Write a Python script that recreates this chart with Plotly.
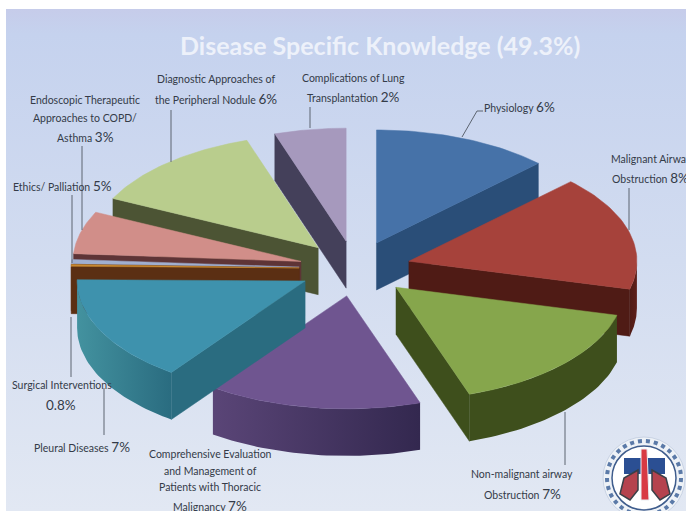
import numpy as np
import plotly.graph_objects as go

# ---- data -----------------------------------------------------------------
categories = ["Physiology", "Malignant Airway Obstruction", "Non-malignant airway Obstruction",
              "Comprehensive Evaluation", "Pleural Diseases", "Surgical Interventions",
              "Ethics/ Palliation", "Endoscopic Therapeutic", "Diagnostic Approaches", "Complications"]
# share of the drawn pie (size of each slice as drawn), in percent of 49.3
slice_values = [6.2, 8.1, 7.8, 7.5, 7.5, 0.15, 0.3, 3.0, 6.3, 2.5]
top_colors = ["#4672A8", "#A6423B", "#86A64C", "#6F5590", "#3E92AD", "#C98A33", "#A0AFD0", "#D18E89", "#B9CD8D", "#A699BD"]
side_left = ["#2A4E78", "#4F1B15", "#3E4F1C", "#5A4577", "#43929F", "#5B2F13", "#5B2F13", "#5E3436", "#4C5434", "#44405A"]
side_right = ["#254569", "#5E1F1A", "#3E4F1C", "#33284F", "#2A6C80", "#5B2F13", "#5B2F13", "#5E3436", "#4C5434", "#44405A"]
draw_order = [9, 0, 8, 1, 2, 7, 6, 5, 3, 4]

title_text = "Disease Specific Knowledge (49.3%)"
label_lines = [
    ("Complications of Lung", None, 353, 78, "center"),
    ("Transplantation", "2%", 353, 97, "center"),
    ("Physiology", "6%", 519, 107, "center"),
    ("Malignant Airway", None, 609, 159, "left"),
    ("Obstruction", "8%", 610, 178, "left"),
    ("Non-malignant airway", None, 522, 474, "center"),
    ("Obstruction", "7%", 522, 494, "center"),
    ("Comprehensive Evaluation", None, 210, 454, "center"),
    ("and Management of", None, 210, 471, "center"),
    ("Patients with Thoracic", None, 210, 487, "center"),
    ("Malignancy", "7%", 210, 506, "center"),
    ("Pleural Diseases", "7%", 82, 447, "center"),
    ("Surgical Interventions", None, 62, 385, "center"),
    ("", "0.8%", 61, 405, "center"),
    ("Ethics/ Palliation", "5%", 62, 186, "center"),
    ("Endoscopic Therapeutic", None, 85, 100, "center"),
    ("Approaches to COPD/", None, 85, 118, "center"),
    ("Asthma", "3%", 85, 137, "center"),
    ("Diagnostic Approaches of", None, 216, 79, "center"),
    ("the Peripheral Nodule", "6%", 216, 99, "center"),
]
leaders = [
    [(462, 137), (477, 111), (483, 111)],
    [(310, 128), (310, 107)],
    [(171, 162), (171, 110)],
    [(82, 230), (82, 146)],
    [(72, 263), (72, 195)],
    [(71, 317), (71, 377)],
    [(104, 388), (104, 435)],
    [(629, 230), (629, 188)],
    [(565, 412), (565, 465)],
]

# ---- pie geometry -----------------------------------------------------------
CX, CY, RX, RY, DEPTH, EXPLODE = 355.0, 268.5, 228.0, 113.0, 47.0, 0.245

values = np.array(slice_values, dtype=float)
edges = np.concatenate([[0], np.cumsum(values)]) / values.sum() * 2 * np.pi

fig = go.Figure()

# background panel
fig.add_trace(go.Scatter(
    x=[6, 686, 686, 6, 6], y=[9, 9, 511, 511, 9], mode="lines", line=dict(width=0),
    fill="toself", hoverinfo="skip", showlegend=False,
    fillgradient=dict(type="vertical", colorscale=[[0, "#E2E8F3"], [0.5, "#D2DCF0"], [0.95, "#C5D2EE"], [1, "#C6CCEA"]]),
))


def poly(xs, ys, **kw):
    fig.add_trace(go.Scatter(x=list(xs) + [xs[0]], y=list(ys) + [ys[0]], mode="lines",
                             fill="toself", hoverinfo="skip", showlegend=False, **kw))


for i in draw_order:
    a0, a1 = edges[i], edges[i + 1]
    mid = (a0 + a1) / 2
    ax = CX + EXPLODE * RX * np.sin(mid)
    ay = CY - EXPLODE * RY * np.cos(mid)
    t = np.linspace(a0, a1, 40)
    ox = ax + RX * np.sin(t)
    oy = ay - RY * np.cos(t)

    # flat cut faces, only those facing the viewer
    if np.sin(a0) < -1e-6:
        c = side_right[i]
        poly([ax, ox[0], ox[0], ax], [ay, oy[0], oy[0] + DEPTH, ay + DEPTH],
             line=dict(width=0.5, color=c), fillcolor=c)
    if np.sin(a1) > 1e-6:
        c = side_left[i]
        poly([ax, ox[-1], ox[-1], ax], [ay, oy[-1], oy[-1] + DEPTH, ay + DEPTH],
             line=dict(width=0.5, color=c), fillcolor=c)
    # curved outer face, front half only
    lo, hi = max(a0, np.pi / 2), min(a1, 3 * np.pi / 2)
    if hi > lo:
        s = np.linspace(lo, hi, 40)
        sx = ax + RX * np.sin(s)
        sy = ay - RY * np.cos(s)
        poly(list(sx) + list(sx[::-1]), list(sy) + list((sy + DEPTH)[::-1]), line=dict(width=0),
             fillgradient=dict(type="horizontal", colorscale=[[0, side_left[i]], [1, side_right[i]]]))
    # top surface
    poly([ax] + list(ox), [ay] + list(oy), line=dict(width=0.5, color=top_colors[i]), fillcolor=top_colors[i])

# ---- shapes: leader lines and emblem -----------------------------------------
shapes = []
for path in leaders:
    d = "M" + " L".join(f"{x},{y}" for x, y in path)
    shapes.append(dict(type="path", path=d, line=dict(color="#5C6470", width=1), layer="above"))


def circle(x, y, r, **kw):
    return dict(type="circle", x0=x - r, x1=x + r, y0=y - r, y1=y + r, layer="above", **kw)


LX, LY = 644, 478
shapes += [
    circle(LX, LY, 41, fillcolor="#EEF2F7", line=dict(color="#C9D3E4", width=1)),
    circle(LX, LY, 37, line=dict(color="#5B7AA8", width=4, dash="dot")),
    circle(LX, LY, 32, fillcolor="#FFFFFF", line=dict(color="#3E5C8C", width=1.5)),
    dict(type="rect", x0=624, x1=665, y0=458, y1=474, fillcolor="#2B4F93", line=dict(width=0), layer="above"),
    dict(type="path", path="M641,449 L647,449 L649,500 L641,500 Z",
         fillcolor="#D83A44", line=dict(color="#E9EDF2", width=1), layer="above"),
    dict(type="path", path="M638,470 L624,478 L620,494 L630,500 L638,490 Z",
         fillcolor="#B5434E", line=dict(color="#3A4048", width=1.5), layer="above"),
    dict(type="path", path="M652,470 L666,478 L670,494 L660,500 L652,490 Z",
         fillcolor="#B5434E", line=dict(color="#3A4048", width=1.5), layer="above"),
]

# ---- text --------------------------------------------------------------------
annotations = [dict(text=title_text, x=380, y=45, xref="x", yref="y", showarrow=False,
                    font=dict(family="Lato", size=25, color="#EDF1FA", weight="bold"))]
for text, pct, x, y, anchor in label_lines:
    s = text
    if pct:
        s = f"{text} <span style='font-size:13.5px'>{pct}</span>".strip()
    annotations.append(dict(text=s, x=x, y=y, xref="x", yref="y", showarrow=False, xanchor=anchor,
                            font=dict(family="Lato", size=10.5, color="#343B48")))

fig.update_layout(
    width=686, height=511, margin=dict(l=0, r=0, t=0, b=0),
    paper_bgcolor="#FFFFFF", plot_bgcolor="rgba(0,0,0,0)",
    xaxis=dict(range=[0, 686], visible=False, fixedrange=True),
    yaxis=dict(range=[511, 0], visible=False, fixedrange=True),
    shapes=shapes, annotations=annotations, showlegend=False,
)
fig.write_html("out.html", config=dict(displayModeBar=False),
               post_script="document.body.style.margin='0';document.body.style.overflow='hidden';")
